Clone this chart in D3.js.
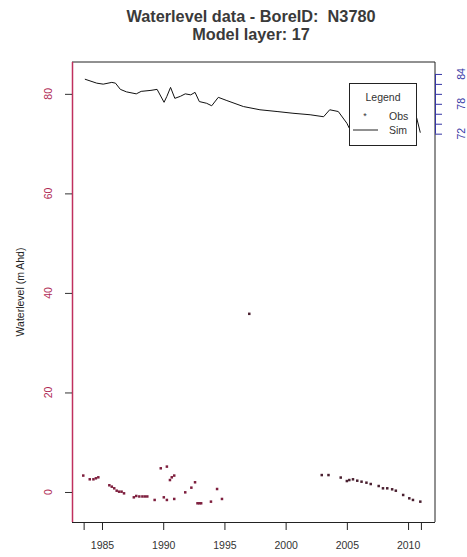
<!DOCTYPE html>
<html><head><meta charset="utf-8">
<script src="https://cdn.jsdelivr.net/npm/d3@7/dist/d3.min.js"></script>
<style>body{margin:0;background:#fff}text{font-family:"Liberation Sans",Arial,sans-serif;white-space:pre}</style>
</head><body>
<script>
const titleLines = ["Waterlevel data - BoreID:  N3780", "Model layer: 17"];
const yLabel = "Waterlevel (m Ahd)";
const xTicks = [1983.5, 1985, 1990, 1995, 2000, 2005, 2010, 2011.05];
const xTickLabels = [1985, 1990, 1995, 2000, 2005, 2010];
const yTicks = [0, 20, 40, 60, 80];
const yRightTicks = [72, 74, 76, 78, 80, 82, 84];
const yRightLabels = [72, 78, 84];

const obsYears = [1983.47,1984.0,1984.3,1984.5,1984.7,1985.6,1985.8,1986.0,1986.2,1986.4,1986.6,1986.8,
  1987.6,1987.8,1988.05,1988.3,1988.5,1988.7,1989.3,1989.8,1990.3,1990.05,1990.3,1990.55,1990.7,1990.9,1990.9,
  1991.8,1992.3,1992.6,1992.8,1992.95,1993.1,1993.9,1994.4,1994.8,1997.03,
  2002.95,2003.5,2004.5,2005.0,2005.2,2005.5,2005.85,2006.2,2006.6,2006.95,2007.6,2007.95,2008.3,2008.7,2009.0,
  2009.6,2010.1,2010.4,2011.0];
const obsValues = [3.3,2.55,2.55,2.75,2.95,1.35,1.07,0.74,0.26,0.06,0.06,-0.27,
  -1.07,-0.8,-0.9,-0.9,-0.9,-0.9,-1.6,4.76,5.1,-1.07,-1.6,2.4,2.95,3.3,-1.4,
  -0.07,0.87,1.95,-2.27,-2.27,-2.27,-1.94,0.6,-1.4,35.8,
  3.4,3.4,2.9,2.2,2.4,2.55,2.27,2.07,1.87,1.6,1.2,0.74,0.74,0.54,0.26,
  -0.6,-1.27,-1.6,-1.94];

const simYears = [1983.6,1984.57,1985.1,1985.8,1986.1,1986.5,1987.0,1987.8,1988.2,1989.0,1989.5,1990.07,1990.3,
  1990.6,1990.95,1991.4,1991.8,1992.25,1992.6,1992.95,1993.55,1993.96,1994.5,1995.2,1996.55,1997.9,1999.3,
  2000.6,2002.0,2003.1,2003.6,2004.3,2005.0,2005.2,2006.0,2007.5,2009.0,2010.3,2010.7,2011.0];
const simValues = [82.95,82.15,81.95,82.3,82.15,80.9,80.4,80.0,80.5,80.7,80.9,78.3,79.5,
  81.3,79.1,79.5,80.0,79.8,80.3,78.45,78.1,77.6,79.3,78.65,77.45,76.8,76.45,
  76.1,75.8,75.4,76.8,76.45,74.1,73.1,73.8,73.6,73.9,74.3,75.2,72.2];

const W = 467, H = 557;
const L = 72, R = 435, T = 62, B = 522;
const svg = d3.select("body").append("svg").attr("width", W).attr("height", H);

const x = d3.scaleLinear().domain([1982.55, 2012.2]).range([L, R]);
const y = d3.scaleLinear().domain([-6.03, 86.4]).range([B, T]);

// title
svg.selectAll("text.title").data(titleLines).enter().append("text")
  .attr("x", 251).attr("y", (d, i) => 22 + i * 18)
  .attr("text-anchor", "middle").attr("font-size", 16.3).attr("font-weight", "bold")
  .attr("fill", "#3a3a3a").text(d => d);

// sim line
svg.append("path").datum(simYears.map((d, i) => [d, simValues[i]]))
  .attr("fill", "none").attr("stroke", "#111").attr("stroke-width", 1)
  .attr("d", d3.line().x(d => x(d[0])).y(d => y(d[1])));

// obs points
svg.selectAll("rect.obs").data(obsYears.map((d, i) => [d, obsValues[i]])).enter().append("rect")
  .attr("x", d => x(d[0]) - 1.25).attr("y", d => y(d[1]) - 1.25)
  .attr("width", 2.5).attr("height", 2.5)
  .attr("fill", d => d[0] > 1996 ? "#4a2030" : "#7e1f3e");

// box
svg.append("line").attr("x1", L).attr("x2", R).attr("y1", T).attr("y2", T).attr("stroke", "#222");
svg.append("line").attr("x1", R).attr("x2", R).attr("y1", T).attr("y2", B).attr("stroke", "#222");

// bottom axis
const xAxis = svg.append("g").attr("transform", `translate(0,${B})`)
  .call(d3.axisBottom(x).tickValues(xTicks).tickSize(8).tickSizeOuter(0)
    .tickFormat(d => xTickLabels.includes(d) ? d : ""));
xAxis.select(".domain").attr("stroke", "#222").attr("d", `M${L},0.5H${R}`);
xAxis.selectAll(".tick line").attr("stroke", "#222");
xAxis.selectAll(".tick text").attr("font-size", 10.5).attr("fill", "#333")
  .attr("font-family", "Liberation Sans, Arial, sans-serif").attr("dy", "1.55em");

// left axis
const yAxis = svg.append("g").attr("transform", `translate(${L},0)`)
  .call(d3.axisLeft(y).tickValues(yTicks).tickSize(7).tickSizeOuter(0));
yAxis.select(".domain").attr("stroke", "#c0305e").attr("stroke-width", 1.5).attr("d", `M0.5,${T}V${B}`);
yAxis.selectAll(".tick line").attr("stroke", "#333");
yAxis.selectAll(".tick text").remove();
svg.selectAll("text.yl").data(yTicks).enter().append("text")
  .attr("transform", d => `translate(52,${y(d)}) rotate(-90)`)
  .attr("text-anchor", "middle").attr("font-size", 10.5).attr("fill", "#b02a55").text(d => d);

// right axis
const yR = svg.append("g").attr("transform", `translate(${R},0)`)
  .call(d3.axisRight(y).tickValues(yRightTicks).tickSize(7).tickSizeOuter(0).tickFormat(""));
yR.select(".domain").attr("stroke", "#3535a5").attr("d", `M0.5,${y(84)}V${y(72)}`);
yR.selectAll(".tick line").attr("stroke", "#3535a5");
svg.selectAll("text.yr").data(yRightLabels).enter().append("text")
  .attr("transform", d => `translate(465,${y(d)}) rotate(-90)`)
  .attr("text-anchor", "middle").attr("font-size", 10.5).attr("fill", "#3535a5").text(d => d);

// y label
svg.append("text").attr("transform", `translate(24,${(T + B) / 2}) rotate(-90)`)
  .attr("text-anchor", "middle").attr("font-size", 10.5).attr("fill", "#222").text(yLabel);

// legend
const lg = svg.append("g");
lg.append("rect").attr("x", 349.5).attr("y", 83.5).attr("width", 67).attr("height", 62)
  .attr("fill", "#fff").attr("stroke", "#222");
lg.append("text").attr("x", 383).attr("y", 101).attr("text-anchor", "middle")
  .attr("font-size", 10.5).attr("fill", "#333").text("Legend");
lg.append("text").attr("x", 365).attr("y", 119).attr("text-anchor", "middle")
  .attr("font-size", 9).attr("fill", "#333").text("*");
lg.append("text").attr("x", 389).attr("y", 120).attr("font-size", 10.5).attr("fill", "#333").text("Obs");
lg.append("line").attr("x1", 353).attr("x2", 378).attr("y1", 130).attr("y2", 130).attr("stroke", "#222");
lg.append("text").attr("x", 389).attr("y", 134).attr("font-size", 10.5).attr("fill", "#333").text("Sim");
</script>
</body></html>
